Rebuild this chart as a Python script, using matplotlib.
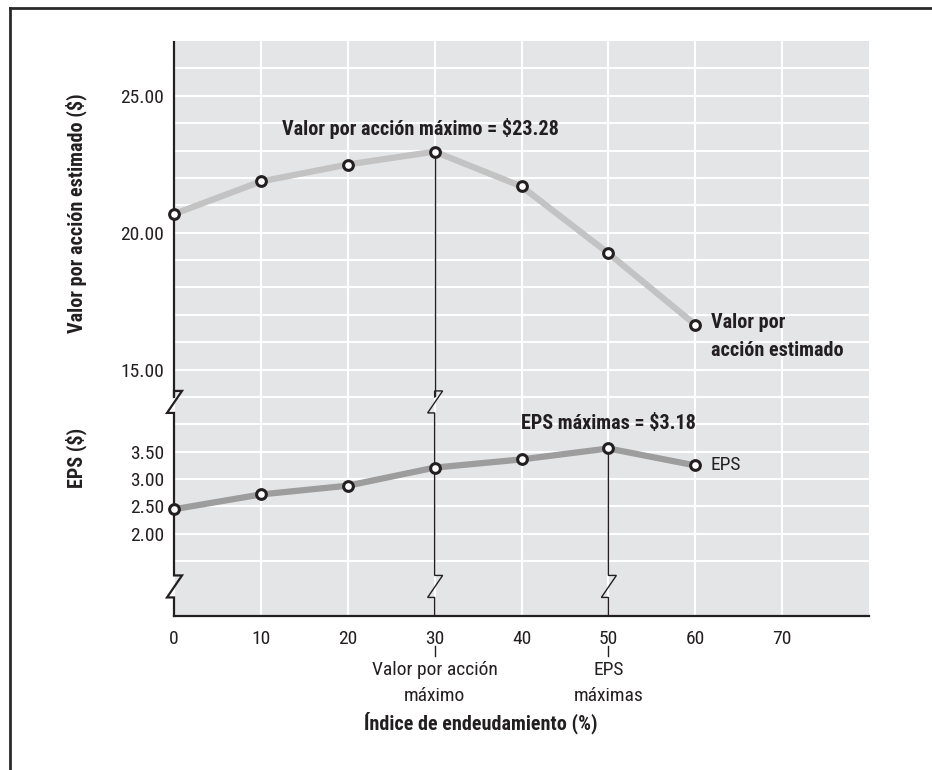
import matplotlib
matplotlib.use("Agg")
import matplotlib.pyplot as plt
import matplotlib.font_manager as fm
from matplotlib.lines import Line2D
from matplotlib.transforms import blended_transform_factory

# --- データ ---
debt_ratio = [0, 10, 20, 30, 40, 50, 60]                              # 負債比率 (%)
share_value = [20.68, 21.87, 22.49, 22.96, 21.69, 19.25, 16.64]       # 推定株価
eps = [2.45, 2.72, 2.88, 3.21, 3.36, 3.56, 3.25]                      # EPS
x_ticks = [0, 10, 20, 30, 40, 50, 60, 70]
value_ticks = [15, 20, 25]
value_tick_labels = ["15.00", "20.00", "25.00"]
eps_ticks = [2.0, 2.5, 3.0, 3.5]
eps_tick_labels = ["2.00", "2.50", "3.00", "3.50"]
value_grid = list(range(14, 27))
eps_grid = [1.5, 2.0, 2.5, 3.0, 3.5, 4.0, 4.5]
max_value_x = 30   # 株価最大の位置
max_eps_x = 50     # EPS最大の位置

# --- 細めのフォントを探す（なければ DejaVu Sans） ---
installed = {f.name for f in fm.fontManager.ttflist}
narrow = [n for n in ["Liberation Sans Narrow", "Noto Sans ExtraCondensed", "Noto Sans Condensed",
                      "Roboto Condensed", "Open Sans Condensed", "DejaVu Sans Condensed"] if n in installed]
plt.rcParams["font.family"] = narrow[:1] + ["DejaVu Sans"]
plt.rcParams["font.stretch"] = "condensed"
INK = "#231f20"
BG = "#e4e5e7"
FS = 14 if narrow else 11.5          # 目盛りなど
FSB = 14.5 if narrow else 12         # 太字の注記

fig = plt.figure(figsize=(9.32, 7.70), dpi=100)
ax_top = fig.add_axes([0.1867, 0.48442, 0.7457, 0.46233])
ax_bot = fig.add_axes([0.1867, 0.2, 0.7457, 0.28442])

for ax in (ax_top, ax_bot):
    ax.set_facecolor(BG)
    ax.set_xlim(0, 80)
    ax.set_xticks(x_ticks)
    ax.set_axisbelow(True)
    ax.grid(which="both", color="white", lw=1.5)
    ax.tick_params(which="both", length=0)
    for s in ax.spines.values():
        s.set_visible(False)

ax_top.set_ylim(14, 27)
ax_top.set_yticks(value_ticks, value_tick_labels, fontsize=FS, color=INK)
ax_top.set_yticks(value_grid, minor=True)
ax_top.tick_params(axis="x", labelbottom=False)
ax_top.tick_params(axis="y", pad=7)

ax_bot.set_ylim(0.5, 4.5)
ax_bot.set_yticks(eps_ticks, eps_tick_labels, fontsize=FS, color=INK)
ax_bot.set_yticks(eps_grid, minor=True)
ax_bot.set_xticks(x_ticks, [str(v) for v in x_ticks], fontsize=FS, color=INK)
ax_bot.tick_params(axis="x", pad=10)
ax_bot.tick_params(axis="y", pad=7)
ax_bot.spines["bottom"].set_visible(True)
ax_bot.spines["bottom"].set_color(INK)
ax_bot.spines["bottom"].set_linewidth(1.6)

# --- 折れ線 ---
mk = dict(marker="o", ms=7, mfc="white", mec=INK, mew=2.2, clip_on=False, zorder=5)
ax_top.plot(debt_ratio, share_value, color="#c3c3c3", lw=4.5, **mk)
ax_bot.plot(debt_ratio, eps, color="#9d9d9d", lw=4.5, **mk)


# --- 波線つきの縦線（ピクセル単位で形を作る） ---
def vline_with_breaks(x, start_ax, y_start, breaks, lw, gap=0):
    X, top = start_ax.transData.transform((x, y_start))
    top -= gap
    _, bottom = ax_bot.transData.transform((x, 0.5))
    _, bound = ax_bot.transData.transform((x, 4.5))
    pts = []
    if start_ax is ax_top:
        # 上段の部分は上段の軸に描く（マーカーの下に来るように）
        ax_top.plot([x, x], [start_ax.transData.inverted().transform((X, top))[1], 14],
                    color=INK, lw=lw, clip_on=False, zorder=4, solid_capstyle="butt")
        pts.append((X, bound))
    else:
        pts.append((X, top))
    for b in breaks:
        _, c = ax_bot.transData.transform((x, b))
        pts += [(X, c + 11), (X + 8, c + 11), (X - 7, c - 11), (X, c - 11)]
    pts.append((X, bottom))
    inv = ax_bot.transData.inverted()
    data = [inv.transform(p) for p in pts]
    ax_bot.plot([d[0] for d in data], [d[1] for d in data], color=INK, lw=lw,
                clip_on=False, zorder=4, solid_joinstyle="miter")


vline_with_breaks(0, ax_top, 27, [4.41, 1.04], 1.6)
vline_with_breaks(max_value_x, ax_top, share_value[debt_ratio.index(max_value_x)], [4.41, 1.04], 1.0, gap=5)
vline_with_breaks(max_eps_x, ax_bot, eps[debt_ratio.index(max_eps_x)], [1.04], 1.0, gap=5)

# --- 注記 ---
ax_top.text(28.4, 23.8, "Valor por acción máximo = $23.28", fontsize=FSB, fontweight="bold",
            color=INK, ha="center", va="center")
ax_top.text(61.8, 16.2, "Valor por\nacción estimado", fontsize=FSB, fontweight="bold",
            color=INK, ha="left", va="center", linespacing=1.6)
ax_bot.text(50, 4.02, "EPS máximas = $3.18", fontsize=FSB, fontweight="bold",
            color=INK, ha="center", va="center")
ax_bot.text(61.8, 3.26, "EPS", fontsize=FS, color=INK, ha="left", va="center")

# x軸の下の説明
bt = blended_transform_factory(ax_bot.transData, ax_bot.transAxes)
for xv, label in [(max_value_x, "Valor por acción\nmáximo"), (max_eps_x, "EPS\nmáximas")]:
    ax_bot.plot([xv, xv], [-30 / 219, -40 / 219], color=INK, lw=1.0, transform=bt, clip_on=False)
    ax_bot.text(xv, -67 / 219, label, transform=bt, fontsize=FS, color=INK,
                ha="center", va="center", linespacing=1.55)

fig.text(481 / 932, 1 - 723 / 770, "Índice de endeudamiento (%)", fontsize=FSB,
         fontweight="bold", color=INK, ha="center", va="center")
fig.text(76 / 932, 1 - 213 / 770, "Valor por acción estimado ($)", fontsize=FSB,
         fontweight="bold", color=INK, ha="center", va="center", rotation=90)
fig.text(76 / 932, 1 - 458 / 770, "EPS ($)", fontsize=FSB,
         fontweight="bold", color=INK, ha="center", va="center", rotation=90)

# --- 外枠（上と左だけ） ---
fig.add_artist(Line2D([10 / 932, 1], [1 - 8 / 770] * 2, transform=fig.transFigure, color="#2a2a2a", lw=2))
fig.add_artist(Line2D([10 / 932] * 2, [0, 1 - 8 / 770], transform=fig.transFigure, color="#2a2a2a", lw=2))

fig.savefig("out.png", dpi=100)
